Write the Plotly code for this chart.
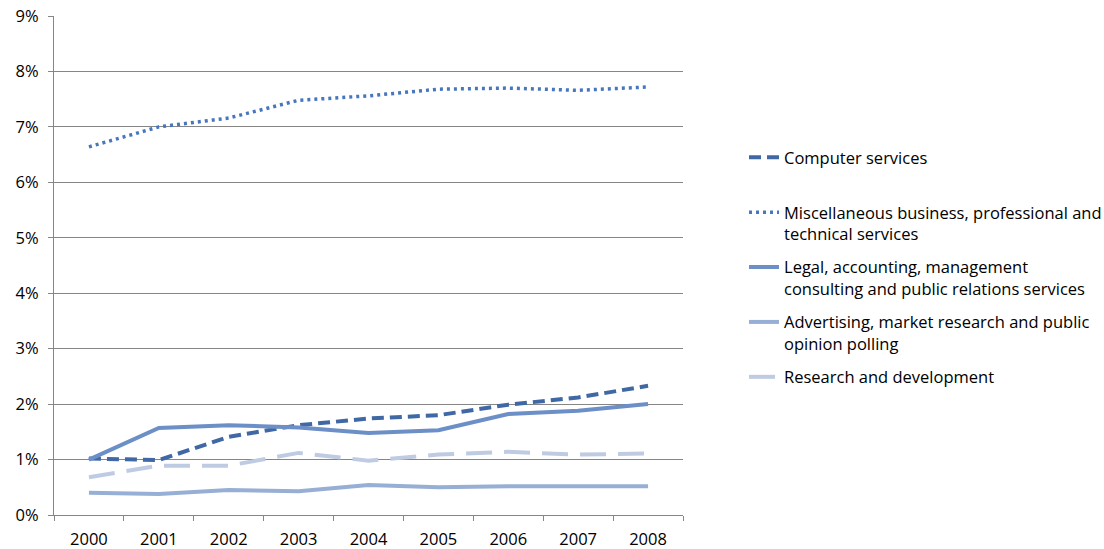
import plotly.graph_objects as go

years = ["2000", "2001", "2002", "2003", "2004", "2005", "2006", "2007", "2008"]
computer = [1.02, 0.99, 1.41, 1.62, 1.74, 1.80, 1.99, 2.12, 2.33]
misc = [6.64, 7.00, 7.16, 7.48, 7.56, 7.68, 7.70, 7.66, 7.72]
legal = [1.00, 1.57, 1.62, 1.58, 1.48, 1.53, 1.82, 1.88, 2.00]
advert = [0.40, 0.38, 0.45, 0.43, 0.54, 0.50, 0.52, 0.52, 0.52]
rnd = [0.68, 0.89, 0.89, 1.12, 0.98, 1.09, 1.14, 1.09, 1.11]
y_ticks = [0, 1, 2, 3, 4, 5, 6, 7, 8, 9]

names = [
    "Computer services<br> ",
    "Miscellaneous business, professional and<br>technical services",
    "Legal, accounting, management<br>consulting and public relations services",
    "Advertising, market research and public<br>opinion polling",
    "Research and development<br> ",
]
series = [computer, misc, legal, advert, rnd]
colors = ["#3F68A4", "#4677BE", "#6B8FC6", "#97AFD4", "#BFCBE2"]
dashes = ["12px,6px", "3px,4px", "solid", "solid", "26px,12px"]
widths = [4, 3.5, 4, 4, 4]

fig = go.Figure()
for i, (nm, vals) in enumerate(zip(names, series)):
    fig.add_trace(go.Scatter(
        x=years, y=vals, mode="lines", name=nm,
        legendgroup=str(i),
        line=dict(color=colors[i], dash=dashes[i], width=widths[i]),
    ))

fig.update_layout(
    width=1104, height=549,
    margin=dict(l=54, r=421, t=16, b=34, autoexpand=False),
    paper_bgcolor="white", plot_bgcolor="white",
    font=dict(family="Open Sans, sans-serif", size=16.5, color="#000000"),
    showlegend=True,
    legend=dict(x=1.097, xanchor="left", y=0.7515, yanchor="top",
                valign="top", tracegroupgap=9,
                font=dict(size=16.5, color="#000000"),
                bgcolor="rgba(0,0,0,0)"),
    xaxis=dict(type="category", range=[-0.5, 8.5], tickson="boundaries",
               ticks="outside", ticklen=5, tickcolor="#868686",
               ticklabelstandoff=9, automargin=False,
               showline=True, linecolor="#868686", linewidth=1,
               showgrid=False, zeroline=False),
    yaxis=dict(range=[0, 9], tickmode="array", tickvals=y_ticks,
               ticktext=[f"{t}%" for t in y_ticks],
               ticks="outside", ticklen=5, tickcolor="#868686",
               ticklabelstandoff=6, automargin=False,
               showline=True, linecolor="#868686", linewidth=1,
               gridcolor="#868686", gridwidth=1, zeroline=False),
)

fig.write_html("out.html", config={"displayModeBar": False},
               post_script="document.body.style.margin='0';")
